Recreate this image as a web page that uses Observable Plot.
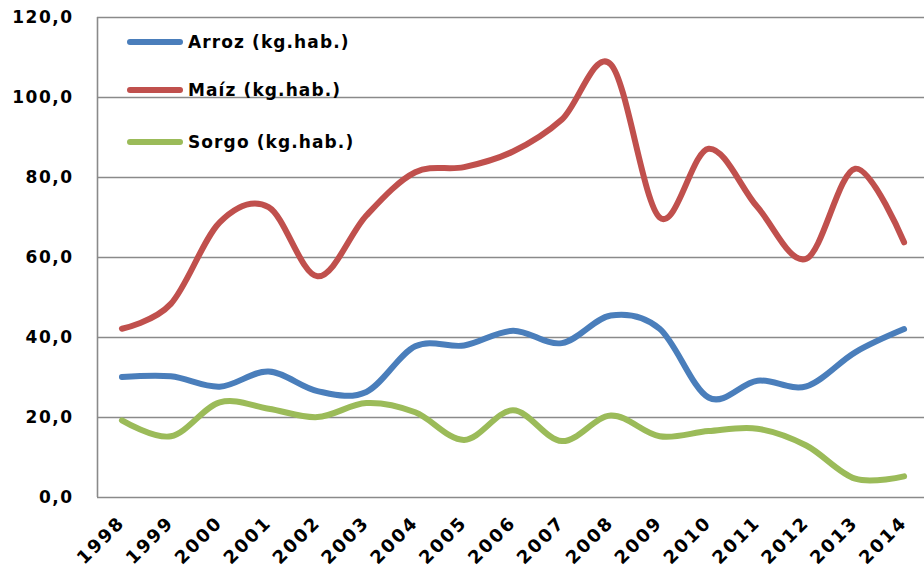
<!DOCTYPE html>
<html>
<head>
<meta charset="utf-8">
<script src="https://cdn.jsdelivr.net/npm/d3@7"></script>
<script src="https://cdn.jsdelivr.net/npm/@observablehq/plot@0.6"></script>
<style>
  html, body { margin: 0; padding: 0; background: #fff; }
  #wrap { position: relative; width: 924px; height: 570px; font-family: "DejaVu Sans", sans-serif; }
  #legend { position: absolute; left: 127px; top: 0; }
  .item { position: absolute; left: 0; white-space: nowrap; display: flex; align-items: center; }
  .sw { width: 56px; height: 6px; border-radius: 3px; margin-right: 5px; }
  .lab { font-size: 17px; font-weight: bold; letter-spacing: 1.1px; color: #000; }
  .yax text { letter-spacing: 1.5px; }
  .xax text { letter-spacing: 2.2px; }
</style>
</head>
<body>
<div id="wrap"></div>
<script>
const years = [1998,1999,2000,2001,2002,2003,2004,2005,2006,2007,2008,2009,2010,2011,2012,2013,2014];
const arroz = [30.1,30.3,27.7,31.5,26.6,26.4,37.8,38.0,41.7,38.6,45.5,42.2,25.0,29.2,27.8,36.3,42.1];
const maiz  = [42.2,48.4,68.8,72.6,55.3,70.5,81.3,82.6,86.5,94.5,108.3,70.0,87.2,72.6,59.7,82.2,63.8];
const sorgo = [19.3,15.3,23.8,22.2,20.1,23.6,21.3,14.4,21.8,14.1,20.5,15.3,16.6,17.2,13.0,4.7,5.3];
const seriesNames = ["Arroz (kg.hab.)", "Maíz (kg.hab.)", "Sorgo (kg.hab.)"];
const seriesColors = ["#4a7ebb", "#c0504d", "#9bbb59"];
const yTicks = [0, 20, 40, 60, 80, 100, 120];

const seriesValues = [arroz, maiz, sorgo];
const rows = seriesValues.flatMap((vals, i) => vals.map((v, j) => ({year: years[j], value: v, series: seriesNames[i]})));

const fmt = d => d.toFixed(1).replace(".", ",");

const chart = Plot.plot({
  width: 924,
  height: 570,
  marginLeft: 97,
  marginRight: 0,
  marginTop: 17,
  marginBottom: 73,
  style: {fontFamily: "DejaVu Sans", fontSize: "17px", color: "#000", background: "#fff"},
  x: {domain: [1997.5, 2014.5], range: [97, 928]},
  y: {domain: [0, 120]},
  color: {domain: seriesNames, range: seriesColors},
  marks: [
    Plot.gridY(yTicks.filter(d => d > 0), {stroke: "#8a8a8a", strokeWidth: 1.6, strokeOpacity: 1}),
    Plot.ruleY([0], {stroke: "#8a8a8a", strokeWidth: 1.6}),
    Plot.ruleX([1997.5], {stroke: "#8a8a8a", strokeWidth: 1.6}),
    Plot.axisY(yTicks, {className: "yax", tickSize: 0, tickPadding: 24, tickFormat: fmt, fontWeight: "bold", fontSize: 17, label: null}),
    Plot.axisX(years, {className: "xax", tickSize: 0, tickPadding: 22, tickRotate: -45, tickFormat: d => String(d), fontWeight: "bold", fontSize: 18, label: null}),
    Plot.line(rows, {x: "year", y: "value", z: "series", stroke: "series", strokeWidth: 6, curve: "cardinal", tension: 0, strokeLinecap: "round", strokeLinejoin: "round"})
  ]
});

const wrap = document.getElementById("wrap");
wrap.appendChild(chart);

const legend = document.createElement("div");
legend.id = "legend";
const tops = [42, 90, 142];
seriesNames.forEach((name, i) => {
  const item = document.createElement("div");
  item.className = "item";
  item.style.top = (tops[i] - 12) + "px";
  item.style.height = "24px";
  const sw = document.createElement("div");
  sw.className = "sw";
  sw.style.background = seriesColors[i];
  const lab = document.createElement("span");
  lab.className = "lab";
  lab.textContent = name;
  item.appendChild(sw);
  item.appendChild(lab);
  legend.appendChild(item);
});
wrap.appendChild(legend);
</script>
</body>
</html>
